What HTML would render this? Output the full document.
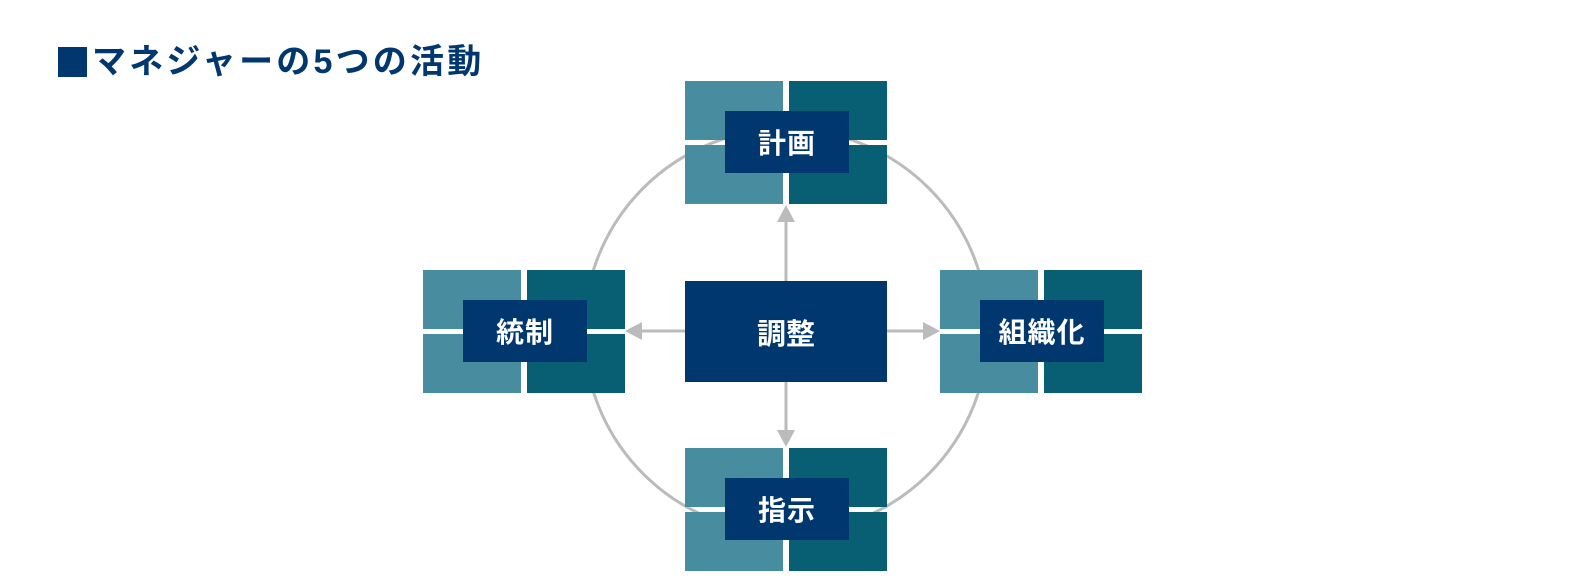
<!DOCTYPE html>
<html><head><meta charset="utf-8"><style>
body{margin:0;width:1580px;height:580px;background:#fff;overflow:hidden;position:relative;font-family:"Liberation Sans","Noto Sans CJK JP",sans-serif}
.t{position:absolute;left:58px;top:40px;font-size:34px;font-weight:bold;color:#00376e;line-height:44px;display:flex;align-items:center;letter-spacing:3.2px}
.t i{display:inline-block;width:29px;height:30px;background:#00376e;margin-right:5px}
.n{position:absolute;width:202px;height:123px}
.q{position:absolute;width:98px;height:59px}
.l{background:#488ca0}.d{background:#085f73}
.lab{position:absolute;left:40px;top:30px;width:124px;height:62px;background:#00376e;color:#fff;font-size:28px;font-weight:bold;display:flex;align-items:center;justify-content:center;letter-spacing:1px}
.c{position:absolute;left:685px;top:281px;width:202px;height:101px;background:#00376e;color:#fff;font-size:29px;font-weight:bold;display:flex;align-items:center;justify-content:center}
</style></head><body>
<div class="t"><i></i>マネジャーの5つの活動</div>
<svg width="1580" height="580" style="position:absolute;left:0;top:0">
<circle cx="786" cy="331" r="202" fill="none" stroke="#bbb" stroke-width="3"/>
<g stroke="#bbb" stroke-width="3">
<line x1="786" y1="281" x2="786" y2="220"/>
<line x1="786" y1="382" x2="786" y2="432"/>
<line x1="685" y1="331" x2="640" y2="331"/>
<line x1="887" y1="331" x2="925" y2="331"/>
</g>
<g fill="#bbb">
<polygon points="786,205 777,222 795,222"/>
<polygon points="786,447 777,430 795,430"/>
<polygon points="625,331 642,322 642,340"/>
<polygon points="940,331 923,322 923,340"/>
</g>
</svg>
<div class="n" style="left:685px;top:81px"><div class="q l" style="left:0;top:0"></div><div class="q d" style="left:104px;top:0"></div><div class="q l" style="left:0;top:64px"></div><div class="q d" style="left:104px;top:64px"></div><div class="lab">計画</div></div>
<div class="n" style="left:423px;top:270px"><div class="q l" style="left:0;top:0"></div><div class="q d" style="left:104px;top:0"></div><div class="q l" style="left:0;top:64px"></div><div class="q d" style="left:104px;top:64px"></div><div class="lab">統制</div></div>
<div class="n" style="left:940px;top:270px"><div class="q l" style="left:0;top:0"></div><div class="q d" style="left:104px;top:0"></div><div class="q l" style="left:0;top:64px"></div><div class="q d" style="left:104px;top:64px"></div><div class="lab">組織化</div></div>
<div class="n" style="left:685px;top:448px"><div class="q l" style="left:0;top:0"></div><div class="q d" style="left:104px;top:0"></div><div class="q l" style="left:0;top:64px"></div><div class="q d" style="left:104px;top:64px"></div><div class="lab">指示</div></div>
<div class="c">調整</div>
</body></html>
